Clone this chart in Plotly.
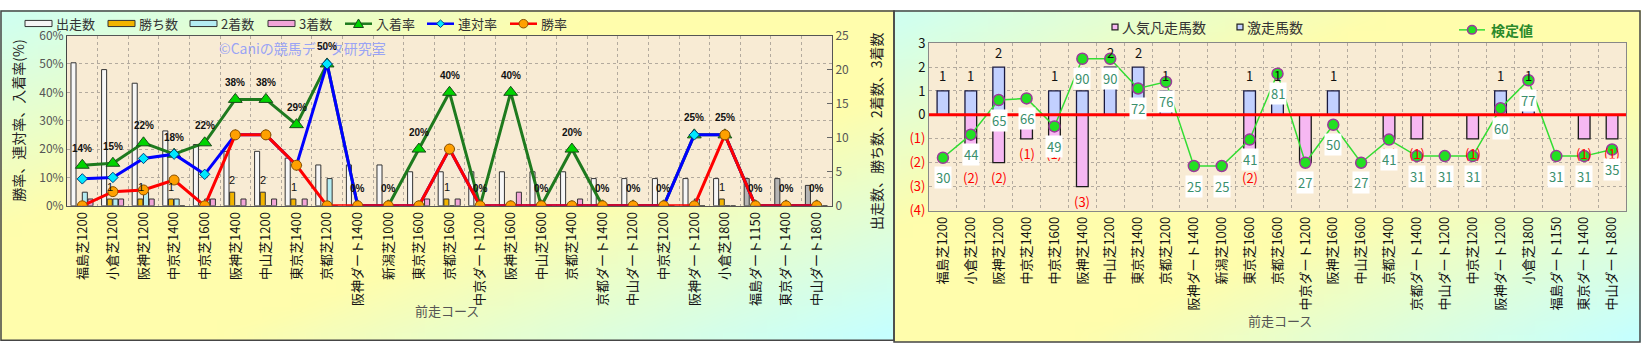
import base64
import struct
import zlib
import plotly.graph_objects as go

W, H = 1641, 352
FONT = "Noto Sans CJK JP"

# ---------------- data ----------------
courses = ["福島芝1200", "小倉芝1200", "阪神芝1200", "中京芝1400", "中京芝1600",
           "阪神芝1400", "中山芝1200", "東京芝1400", "京都芝1200", "阪神ダート1400",
           "新潟芝1000", "東京芝1600", "京都芝1600", "中京ダート1200", "阪神芝1600",
           "中山芝1600", "京都芝1400", "京都ダート1400", "中山ダート1200", "中京芝1200",
           "阪神ダート1200", "小倉芝1800", "福島ダート1150", "東京ダート1400", "中山ダート1800"]

runs = [21, 20, 18, 11, 9, 8, 8, 7, 6, 6, 6, 5, 5, 5, 5, 5, 5, 4, 4, 4, 4, 4, 4, 4, 3]
wins = [0, 1, 1, 1, 0, 2, 2, 1, 0, 0, 0, 0, 1, 0, 0, 0, 0, 0, 0, 0, 0, 1, 0, 0, 0]
seconds = [2, 1, 2, 1, 1, 0, 0, 0, 4, 0, 0, 0, 0, 0, 0, 0, 0, 0, 0, 0, 1, 0, 0, 0, 0]
thirds = [1, 1, 1, 0, 1, 1, 1, 1, 0, 0, 0, 1, 1, 0, 2, 0, 1, 0, 0, 0, 0, 0, 0, 0, 0]

win_rate = [0, 5.0, 5.6, 9.1, 0, 25, 25, 14.3, 0, 0, 0, 0, 20, 0, 0, 0, 0, 0, 0, 0, 0, 25, 0, 0, 0]
rentai_rate = [9.5, 10, 16.7, 18.2, 11.1, 25, 25, 14.3, 50, 0, 0, 0, 20, 0, 0, 0, 0, 0, 0, 0, 25, 25, 0, 0, 0]
top3_rate = [14.3, 15, 22.2, 18.2, 22.2, 37.5, 37.5, 28.6, 50, 0, 0, 20, 40, 0, 40, 0, 20, 0, 0, 0, 25, 25, 0, 0, 0]

gekisou = [1, 1, 2, 0, 1, 1, 2, 2, 1, 0, 0, 1, 1, 0, 1, 0, 0, 0, 0, 0, 1, 1, 0, 0, 0]
bonsou = [0, 2, 2, 1, 1, 3, 0, 0, 0, 0, 0, 2, 0, 2, 0, 0, 1, 1, 0, 1, 0, 0, 0, 1, 1]
kentei = [30, 44, 65, 66, 49, 90, 90, 72, 76, 25, 25, 41, 81, 27, 50, 27, 41, 31, 31, 31, 60, 77, 31, 31, 35]

pct_ticks = [0, 10, 20, 30, 40, 50, 60]
cnt_ticks = [0, 5, 10, 15, 20, 25]
right_ticks = [-4, -3, -2, -1, 0, 1, 2, 3]


# ---------------- helpers ----------------
def px(x):
    return x / W


def py(y):
    return 1 - y / H


def gradient_uri(w, h):
    cyan0 = (208, 255, 240)
    yel = (255, 253, 172)
    cyan1 = (198, 255, 255)

    def mix(a, b, t):
        return tuple(int(round(a[k] + (b[k] - a[k]) * t)) for k in range(3))

    raw = bytearray()
    for j in range(h):
        raw.append(0)
        for i in range(w):
            t = (i / (w - 1) + j / (h - 1)) / 2
            if t < 0.33:
                c = mix(cyan0, yel, t / 0.33)
            elif t < 0.62:
                c = yel
            else:
                c = mix(yel, cyan1, (t - 0.62) / 0.38)
            raw.extend(c)

    def chunk(tag, data):
        c = struct.pack(">I", len(data)) + tag + data
        return c + struct.pack(">I", zlib.crc32(tag + data) & 0xFFFFFFFF)

    png = (b"\x89PNG\r\n\x1a\n"
           + chunk(b"IHDR", struct.pack(">IIBBBBB", w, h, 8, 2, 0, 0, 0))
           + chunk(b"IDAT", zlib.compress(bytes(raw)))
           + chunk(b"IEND", b""))
    return "data:image/png;base64," + base64.b64encode(png).decode()


fig = go.Figure()

# ---------------- left chart bars (base axis y = counts) ----------------
BW = 0.165
runs_colors = ["#f7f7f7"] * 22 + ["#b4b4b4"] * 3
bar_specs = [
    ("出走数", runs, runs_colors, -0.37),
    ("勝ち数", wins, "#f2b400", -0.185),
    ("2着数", seconds, "#b4ecf2", 0.0),
    ("3着数", thirds, "#f2a4d8", 0.185),
]
for name, vals, col, off in bar_specs:
    fig.add_trace(go.Bar(
        x=courses, y=vals, name=name, width=BW, offset=off,
        marker=dict(color=col, line=dict(color="#333333", width=1)),
        xaxis="x", yaxis="y", showlegend=False))

# ---------------- left chart lines (overlay axis y2 = %) ----------------
fig.add_trace(go.Scatter(
    x=courses, y=top3_rate, name="入着率", mode="lines+markers",
    line=dict(color="#1e7a1e", width=3),
    marker=dict(symbol="triangle-up", size=12, color="#00d400",
                line=dict(color="#1a4a1a", width=1)),
    xaxis="x", yaxis="y2", showlegend=False))
fig.add_trace(go.Scatter(
    x=courses, y=rentai_rate, name="連対率", mode="lines+markers",
    line=dict(color="#0000ff", width=3),
    marker=dict(symbol="diamond", size=8, color="#00e8ff",
                line=dict(color="#004080", width=1)),
    xaxis="x", yaxis="y2", showlegend=False))
fig.add_trace(go.Scatter(
    x=courses, y=win_rate, name="勝率", mode="lines+markers",
    line=dict(color="#ff0000", width=3),
    marker=dict(symbol="circle", size=10, color="#ffa000",
                line=dict(color="#8a5000", width=1)),
    xaxis="x", yaxis="y2", showlegend=False))

# ---------------- right chart ----------------
fig.add_trace(go.Bar(
    x=courses, y=gekisou, name="激走馬数", width=0.42, offset=-0.21,
    marker=dict(color="#c2d0ff", line=dict(color="#1a1a40", width=1.3)),
    xaxis="x2", yaxis="y3", showlegend=False))
fig.add_trace(go.Bar(
    x=courses, y=[-b for b in bonsou], name="人気凡走馬数", width=0.42, offset=-0.21,
    marker=dict(color="#f6b8f2", line=dict(color="#1a1a1a", width=1.3)),
    xaxis="x2", yaxis="y3", showlegend=False))
fig.add_trace(go.Scatter(
    x=courses, y=kentei, name="検定値", mode="lines+markers",
    line=dict(color="#33dd33", width=1.5),
    marker=dict(symbol="circle", size=11, color="#22e022",
                line=dict(color="#9a3a9a", width=1.5)),
    xaxis="x2", yaxis="y4", showlegend=False))

# ---------------- axes ----------------
grid = dict(showgrid=True, gridcolor="#b3aa9e", griddash="dot", gridwidth=1)
xcommon = dict(type="category", categoryorder="array", categoryarray=courses,
               tickson="boundaries", tickangle=-90, ticks="",
               tickfont=dict(size=13, color="#111111", family=FONT),
               showline=True, mirror=True, range=[-0.5, len(courses) - 0.5], **grid)

layout = dict(
    width=W, height=H, margin=dict(l=0, r=0, t=0, b=0),
    paper_bgcolor="white", plot_bgcolor="rgba(0,0,0,0)",
    font=dict(family=FONT, size=12, color="#333333"),
    barmode="group", showlegend=False,
    xaxis=dict(domain=[px(67), px(832)], anchor="y", linecolor="#555555", **xcommon),
    yaxis=dict(domain=[py(207), py(27)], anchor="x", side="right", range=[0, 25],
               tickvals=cnt_ticks, ticks="inside", ticklen=5, tickcolor="#666666",
               tickfont=dict(size=12, color="#555555"), showgrid=False, zeroline=False,
               showline=True, linecolor="#555555"),
    yaxis2=dict(overlaying="y", anchor="x", side="left", range=[0, 60],
                tickvals=pct_ticks, ticktext=[f"{v}%" for v in pct_ticks],
                tickfont=dict(size=12, color="#555555"), zeroline=False,
                showline=True, linecolor="#444444", **grid),
    xaxis2=dict(domain=[px(929), px(1626)], anchor="y3", linecolor="#888888", **xcommon),
    yaxis3=dict(domain=[py(212), py(35)], anchor="x2", range=[-4, 3],
                tickvals=right_ticks,
                ticktext=[(f"<span style='color:#ff0000'>({-v})</span>" if v < 0 else str(v))
                          for v in right_ticks],
                tickfont=dict(size=13, color="#111111"), zeroline=False,
                showline=True, mirror=True, linecolor="#888888", **grid),
    yaxis4=dict(overlaying="y3", anchor="x2", range=[-2, 99.5], visible=False),
)
fig.update_layout(**layout)

# ---------------- backgrounds ----------------
grad = gradient_uri(60, 24)
fig.update_layout(images=[
    dict(source=grad, xref="paper", yref="paper", x=0, y=1, sizex=px(894), sizey=1 - py(349),
         sizing="stretch", xanchor="left", yanchor="top", layer="below"),
    dict(source=grad, xref="paper", yref="paper", x=px(894), y=1, sizex=px(1641 - 894),
         sizey=1 - py(351), sizing="stretch", xanchor="left", yanchor="top", layer="below"),
])

shapes = []


def rect(x0, y0, x1, y1, **kw):
    shapes.append(dict(type="rect", xref="paper", yref="paper",
                       x0=px(x0), x1=px(x1), y0=py(y1), y1=py(y0), **kw))


# plot area fills
rect(67, 27, 832, 207, fillcolor="#f8ebd4", line=dict(width=0), layer="below")
rect(929, 35, 1626, 212, fillcolor="#f8ebd4", line=dict(width=0), layer="below")
# panel borders
rect(1, 1, 894, 349, fillcolor="rgba(0,0,0,0)", line=dict(color="#454545", width=1.5), layer="below")
rect(894, 1, 1640, 351, fillcolor="rgba(0,0,0,0)", line=dict(color="#454545", width=1.5), layer="below")

# red zero line on right chart
shapes.append(dict(type="line", xref="x2 domain", yref="y3", x0=0, x1=1, y0=0, y1=0,
                   line=dict(color="#ff0000", width=3), layer="above"))

# ----- custom legend (left) -----
leg_bars = [("出走数", 25, "#f4f4f4"), ("勝ち数", 108, "#f2b400"),
            ("2着数", 190, "#b4ecf2"), ("3着数", 268, "#f2a4d8")]
for _, x0, col in leg_bars:
    rect(x0, 11, x0 + 27, 17.5, fillcolor=col, line=dict(color="#333333", width=1))

leg_lines = [("入着率", 345, "#1e7a1e", "tri", "#00d400"),
             ("連対率", 427, "#0000ff", "dia", "#00e8ff"),
             ("勝率", 510, "#ff0000", "cir", "#ffa000")]
for _, x0, lc, sym, mc in leg_lines:
    shapes.append(dict(type="line", xref="paper", yref="paper", x0=px(x0), x1=px(x0 + 27),
                       y0=py(14.5), y1=py(14.5), line=dict(color=lc, width=2.5)))
    cx, cy = x0 + 13.5, 14.5
    if sym == "tri":
        path = (f"M{px(cx-5)},{py(cy+4)} L{px(cx+5)},{py(cy+4)} L{px(cx)},{py(cy-5)} Z")
        shapes.append(dict(type="path", xref="paper", yref="paper", path=path,
                           fillcolor=mc, line=dict(color="#1a4a1a", width=1)))
    elif sym == "dia":
        path = (f"M{px(cx)},{py(cy-4)} L{px(cx+4)},{py(cy)} L{px(cx)},{py(cy+4)} L{px(cx-4)},{py(cy)} Z")
        shapes.append(dict(type="path", xref="paper", yref="paper", path=path,
                           fillcolor=mc, line=dict(color="#004080", width=1)))
    else:
        shapes.append(dict(type="circle", xref="paper", yref="paper",
                           x0=px(cx - 4.5), x1=px(cx + 4.5), y0=py(cy + 4.5), y1=py(cy - 4.5),
                           fillcolor=mc, line=dict(color="#8a5000", width=1)))

# ----- custom legend (right) -----
rect(1112, 15, 1118, 21, fillcolor="#f6b8f2", line=dict(color="#222222", width=1.2))
rect(1237, 15, 1243, 21, fillcolor="#c2d0ff", line=dict(color="#222222", width=1.2))
shapes.append(dict(type="line", xref="paper", yref="paper", x0=px(1459), x1=px(1485),
                   y0=py(21), y1=py(21), line=dict(color="#33dd33", width=1.5)))
shapes.append(dict(type="circle", xref="paper", yref="paper",
                   x0=px(1467.5), x1=px(1476.5), y0=py(25.5), y1=py(16.5),
                   fillcolor="#22e022", line=dict(color="#9a3a9a", width=1.5)))

fig.update_layout(shapes=shapes)

# ---------------- annotations ----------------
ann = []


def text_px(x, y, s, size=13, color="#333333", anchor="left", angle=0, bold=False):
    ann.append(dict(xref="paper", yref="paper", x=px(x), y=py(y), text=(f"<b>{s}</b>" if bold else s),
                    showarrow=False, xanchor=anchor, yanchor="middle", textangle=angle,
                    font=dict(size=size, color=color, family=FONT)))


for name, x0, _ in leg_bars:
    text_px(x0 + 29, 14.5, name)
for name, x0, *_ in leg_lines:
    text_px(x0 + 29, 14.5, name)
text_px(1120, 17.5, "人気凡走馬数", size=14)
text_px(1245, 17.5, "激走馬数", size=14)
text_px(1489, 21, "検定値", size=14, color="#2a8a2a", bold=True)

text_px(302, 40, "©Caniの競馬データ研究室", size=14, color="#9aa4f4", anchor="center")
text_px(18, 117, "勝率、連対率、入着率(%)", size=14, color="#222222", anchor="center", angle=-90)
text_px(876, 128, "出走数、勝ち数、2着数、3着数", size=14, color="#222222", anchor="center", angle=-90)
text_px(447, 318, "前走コース", size=13, color="#555555", anchor="center")
text_px(1280, 328, "前走コース", size=13, color="#555555", anchor="center")

# percentage labels above 入着率 points
for c, v in zip(courses, top3_rate):
    ann.append(dict(xref="x", yref="y2", x=c, y=v, yshift=17, showarrow=False,
                    text=f"<b>{round(v):d}%</b>",
                    font=dict(size=10, color="#111111", family="Liberation Sans")))
# win counts above gold bars
for c, v in zip(courses, wins):
    if v > 0:
        ann.append(dict(xref="x", yref="y", x=c, y=v, xshift=-3, yshift=12, showarrow=False,
                        text=str(v), font=dict(size=11, color="#111111", family="Liberation Sans")))

# right chart labels
for c, v in zip(courses, gekisou):
    if v > 0:
        ann.append(dict(xref="x2", yref="y3", x=c, y=v, yshift=15, showarrow=False,
                        text=str(v), font=dict(size=13, color="#111111", family=FONT)))
for c, v in zip(courses, bonsou):
    if v > 0:
        ann.append(dict(xref="x2", yref="y3", x=c, y=-v, yshift=-15, showarrow=False,
                        text=f"({v})", font=dict(size=13, color="#ff0000", family=FONT)))
for c, v in zip(courses, kentei):
    ann.append(dict(xref="x2", yref="y4", x=c, y=v, yshift=-20, showarrow=False,
                    text=str(v), bgcolor="white", borderpad=1,
                    font=dict(size=13, color="#3a8f6c", family=FONT)))

fig.update_layout(annotations=ann)

fig.write_html("out.html")
